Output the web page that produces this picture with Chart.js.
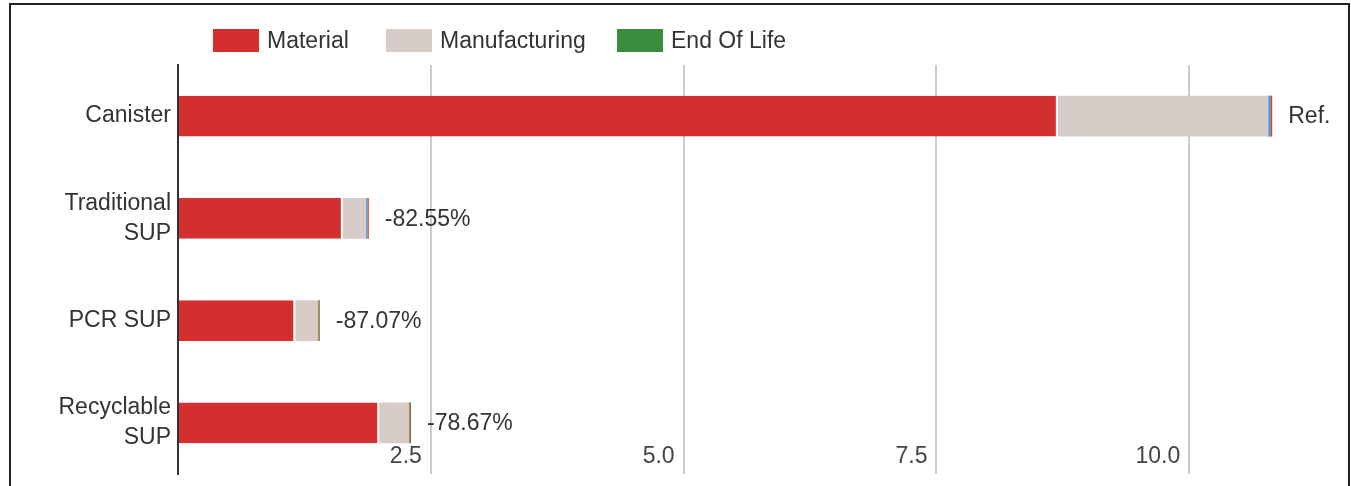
<!DOCTYPE html>
<html lang="en">
<head>
  <meta charset="UTF-8" />
  <title>Carbon footprint comparison</title>
  <script src="https://cdn.jsdelivr.net/npm/chart.js"></script>
  <style>
    body {
      margin: 0;
      background: #fff;
      font-family: 'Liberation Sans', Arial, sans-serif;
      overflow: hidden;
    }
    .frame {
      position: absolute;
      left: 9px;
      top: 3px;
      width: 1337px;
      height: 520px;
      border: 2px solid #222;
    }
    .wrap {
      position: absolute;
      left: 0;
      top: 0;
      width: 1351px;
      height: 486px;
    }
    .legend-item {
      position: absolute;
      top: 27px;
      display: flex;
      align-items: center;
      font-size: 23px;
      color: #333;
    }
    .legend-item span.box {
      display: inline-block;
      width: 46px;
      height: 23px;
      margin-right: 8px;
    }
  </style>
</head>
<body>

<div class="frame"></div>
<div class="wrap"><canvas id="grafico" width="1351" height="486"></canvas></div>

<div class="legend-item" style="left:213px"><span class="box" style="background:#D32F2F"></span>Material</div>
<div class="legend-item" style="left:386px"><span class="box" style="background:#D7CCC8"></span>Manufacturing</div>
<div class="legend-item" style="left:617px"><span class="box" style="background:#388E3C"></span>End Of Life</div>

<script>
  const categorias = [['Canister'], ['Traditional', 'SUP'], ['PCR SUP'], ['Recyclable', 'SUP']];
  const material = [8.70, 1.63, 1.16, 1.99];
  const manufacturing = [2.08, 0.23, 0.22, 0.29];
  const transporte = [0.02, 0.012, 0.0, 0.0];
  const distribucion = [0.02, 0.015, 0.01, 0.01];
  const endOfLife = [0.0, 0.0, 0.012, 0.014];
  const etiquetas = ['Ref.', '-82.55%', '-87.07%', '-78.67%'];
  const ticksX = [2.5, 5.0, 7.5, 10.0];

  const fuente = "'Liberation Sans', Arial, sans-serif";

  // etiquetas al final de cada barra y de eje X dentro del área
  const textosPlugin = {
    id: 'textos',
    afterDatasetsDraw(chart) {
      const ctx = chart.ctx;
      const x = chart.scales.x;
      const y = chart.scales.y;
      ctx.save();
      ctx.font = '23px ' + fuente;
      ctx.fillStyle = '#333';
      ctx.textAlign = 'left';
      ctx.textBaseline = 'middle';
      categorias.forEach((c, i) => {
        const total = material[i] + manufacturing[i] + transporte[i] + distribucion[i] + endOfLife[i];
        ctx.fillText(etiquetas[i], x.getPixelForValue(total) + 16, y.getPixelForValue(i) + 1);
      });
      ctx.fillStyle = '#444';
      ctx.textAlign = 'right';
      ticksX.forEach(v => {
        ctx.fillText(v.toFixed(1), x.getPixelForValue(v) - 9, 457);
      });
      ctx.restore();
    }
  };

  new Chart(document.getElementById('grafico').getContext('2d'), {
    type: 'bar',
    data: {
      labels: categorias,
      datasets: [
        { label: 'Material', data: material, backgroundColor: '#D32F2F', borderColor: '#fff', borderWidth: { right: 2 }, borderSkipped: 'start' },
        { label: 'Manufacturing', data: manufacturing, backgroundColor: '#D7CCC8', borderWidth: 0 },
        { label: 'Transport', data: transporte, backgroundColor: '#29A8E8', borderWidth: 0 },
        { label: 'Use', data: distribucion, backgroundColor: '#E0473F', borderWidth: 0 },
        { label: 'End Of Life', data: endOfLife, backgroundColor: '#388E3C', borderWidth: 0 }
      ]
    },
    options: {
      indexAxis: 'y',
      responsive: false,
      animation: false,
      categoryPercentage: 1,
      barPercentage: 0.4,
      layout: { padding: { top: 65, right: 10, bottom: 12, left: 0 } },
      scales: {
        x: {
          stacked: true,
          min: 0,
          max: 11.5,
          afterBuildTicks: scale => { scale.ticks = [0, ...ticksX].map(v => ({ value: v })); },
          afterFit: scale => { scale.height = 0; scale.paddingLeft = 0; scale.paddingRight = 0; },
          ticks: { display: false },
          border: { display: false },
          grid: {
            drawTicks: false,
            lineWidth: 2,
            color: c => (c.tick && c.tick.value === 0) ? 'rgba(0,0,0,0)' : '#cccccc'
          }
        },
        y: {
          stacked: true,
          afterFit: scale => { scale.width = 178; scale.paddingTop = 0; scale.paddingBottom = 0; },
          grid: { display: false, drawTicks: false },
          border: { display: true, color: '#333', width: 2 },
          ticks: {
            padding: 7,
            color: '#333',
            font: { family: fuente, size: 23, lineHeight: 1.3 }
          }
        }
      },
      plugins: {
        legend: { display: false },
        tooltip: { enabled: false }
      }
    },
    plugins: [textosPlugin]
  });
</script>

</body>
</html>
